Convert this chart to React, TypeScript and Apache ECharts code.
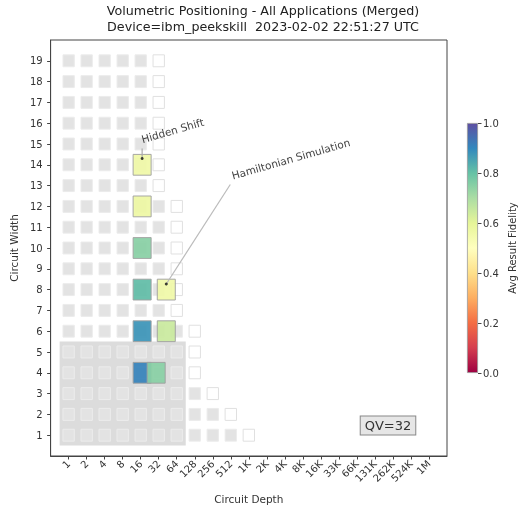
import React, { useEffect, useRef } from "react";
import * as echarts from "echarts";

// ---- data ----
const depthLabels = ["1", "2", "4", "8", "16", "32", "64", "128", "256", "512", "1K", "2K", "4K", "8K", "16K", "33K", "66K", "131K", "262K", "524K", "1M"];
const widthTicks = [1, 2, 3, 4, 5, 6, 7, 8, 9, 10, 11, 12, 13, 14, 15, 16, 17, 18, 19];
// highest filled (gray) depth index for each width 1..19; the next one is the open (white) cell
const grayMaxDepthIdx = [9, 8, 7, 6, 6, 6, 5, 5, 5, 5, 5, 5, 4, 4, 4, 4, 4, 4, 4];

const hsWidths = [4, 6, 8, 10, 12, 14];
const hsDepths = [16.9, 16.9, 16.9, 16.9, 16.9, 16.9];
const hsFidelity = [0.91, 0.88, 0.81, 0.75, 0.57, 0.56];

const hamWidths = [4, 6, 8];
const hamDepths = [29.0, 42.8, 42.8];
const hamFidelity = [0.75, 0.65, 0.56];

const qvValue = 32;
const qvWidth = 5;
const qvMaxDepthIdx = 6;

const annotNames = ["Hidden Shift", "Hamiltonian Simulation"];
const annotDepths = [16.9, 42.8];
const annotWidths = [14.3, 8.27];

const spectral = ["#9e0142", "#d53e4f", "#f46d43", "#fdae61", "#fee08b", "#ffffbf", "#e6f598", "#abdda4", "#66c2a5", "#3288bd", "#5e4fa2"];

const FONT = "DejaVu Sans";

export default function App() {
  const ref = useRef<HTMLDivElement>(null);
  useEffect(() => {
    if (!ref.current) return;
    const chart = echarts.init(ref.current, undefined, { renderer: "svg" });

    const grayData: number[][] = [];
    const whiteData: number[][] = [];
    grayMaxDepthIdx.forEach((m, i) => {
      const w = widthTicks[i];
      for (let d = 0; d <= m; d++) grayData.push([d, w]);
      whiteData.push([m + 1, w]);
    });
    const colored: number[][] = [];
    hsWidths.forEach((w, i) => colored.push([Math.log2(hsDepths[i]), w, hsFidelity[i]]));
    hamWidths.forEach((w, i) => colored.push([Math.log2(hamDepths[i]), w, hamFidelity[i]]));
    const dots = annotDepths.map((d, i) => [Math.log2(d), annotWidths[i]]);

    const tickIdx = depthLabels.map((_, i) => i);

    const squareRender = (fill: string, stroke: string) => (params: any, api: any) => {
      const c = api.coord([api.value(0), api.value(1)]);
      const s = api.size([0.63, 0.575]);
      return {
        type: "rect",
        shape: { x: c[0] - s[0] / 2, y: c[1] - s[1] / 2, width: s[0], height: s[1] },
        style: { fill, stroke, lineWidth: 1 },
      };
    };

    chart.setOption({
      animation: false,
      title: {
        text: "Volumetric Positioning - All Applications (Merged)\nDevice=ibm_peekskill  2023-02-02 22:51:27 UTC",
        left: 263,
        top: 2,
        padding: 0,
        textAlign: "center",
        textStyle: { fontFamily: FONT, fontSize: 12.7, fontWeight: "normal", color: "#222", lineHeight: 16.5 },
      },
      grid: [
        { left: 45, top: 40, width: 402, height: 416, show: true, borderColor: "#444", borderWidth: 1, backgroundColor: "transparent" },
        { left: 467, top: 123, width: 14, height: 250 },
      ],
      xAxis: [
        {
          type: "value", gridIndex: 0, min: -1, max: 21, interval: 1,
          splitLine: { show: false },
          axisLine: { show: true, onZero: false, lineStyle: { color: "#444" } },
          axisTick: { show: true, customValues: tickIdx, length: 3.5, lineStyle: { color: "#444" } },
          axisLabel: {
            customValues: tickIdx, rotate: 45, margin: 6,
            formatter: (v: number) => depthLabels[Math.round(v)] ?? "",
            fontFamily: FONT, fontSize: 10, color: "#333",
          },
          name: "Circuit Depth", nameLocation: "middle", nameGap: 37,
          nameTextStyle: { fontFamily: FONT, fontSize: 10.5, color: "#333" },
        },
        { type: "category", gridIndex: 1, data: [""], show: false },
      ],
      yAxis: [
        {
          type: "value", gridIndex: 0, min: 0, max: 20, interval: 1,
          splitLine: { show: false },
          axisLine: { show: true, onZero: false, lineStyle: { color: "#444" } },
          axisTick: { show: true, customValues: widthTicks, length: 3.5, lineStyle: { color: "#444" } },
          axisLabel: { customValues: widthTicks, margin: 8, fontFamily: FONT, fontSize: 10, color: "#333" },
          name: "Circuit Width", nameLocation: "middle", nameGap: 30, nameRotate: 90,
          nameTextStyle: { fontFamily: FONT, fontSize: 10.5, color: "#333" },
        },
        {
          type: "value", gridIndex: 1, min: 0, max: 1, interval: 0.2, position: "right",
          splitLine: { show: false },
          axisLine: { show: false },
          axisTick: { show: true, length: 3.5, lineStyle: { color: "#444" } },
          axisLabel: { margin: 5, fontFamily: FONT, fontSize: 10, color: "#333", formatter: (v: number) => v.toFixed(1) },
          name: "Avg Result Fidelity", nameLocation: "middle", nameGap: 29, nameRotate: 90,
          nameTextStyle: { fontFamily: FONT, fontSize: 10, color: "#333" },
        },
      ],
      visualMap: {
        type: "continuous", show: false, min: 0, max: 1, dimension: 2, seriesIndex: 3,
        inRange: { color: spectral },
      },
      series: [
        {
          type: "custom", xAxisIndex: 0, yAxisIndex: 0, silent: true,
          data: [[-0.5, 0.5, qvMaxDepthIdx + 0.5, qvWidth + 0.5]],
          encode: { x: [0, 2], y: [1, 3] },
          renderItem: (params: any, api: any) => {
            const a = api.coord([api.value(0), api.value(1)]);
            const b = api.coord([api.value(2), api.value(3)]);
            return {
              type: "rect",
              shape: { x: a[0], y: b[1], width: b[0] - a[0], height: a[1] - b[1] },
              style: { fill: "#dcdcdc" },
            };
          },
        },
        {
          type: "custom", xAxisIndex: 0, yAxisIndex: 0, silent: true,
          data: grayData, encode: { x: 0, y: 1 },
          renderItem: squareRender("#e3e3e3", "#ececec"),
        },
        {
          type: "custom", xAxisIndex: 0, yAxisIndex: 0, silent: true,
          data: whiteData, encode: { x: 0, y: 1 },
          renderItem: squareRender("#ffffff", "#e0e0e0"),
        },
        {
          type: "custom", xAxisIndex: 0, yAxisIndex: 0, silent: true,
          data: colored, encode: { x: 0, y: 1 },
          renderItem: (params: any, api: any) => {
            const c = api.coord([api.value(0), api.value(1)]);
            const s = api.size([1, 1]);
            return {
              type: "rect",
              shape: { x: c[0] - s[0] / 2, y: c[1] - s[1] / 2, width: s[0], height: s[1] },
              style: { fill: api.visual("color"), stroke: "#a0a0a0", lineWidth: 1, opacity: 0.93 },
            };
          },
        },
        {
          type: "scatter", xAxisIndex: 0, yAxisIndex: 0, silent: true,
          data: dots, symbol: "circle", symbolSize: 3,
          itemStyle: { color: "#111" }, z: 5,
        },
        {
          type: "bar", xAxisIndex: 1, yAxisIndex: 1, silent: true,
          data: [1], barWidth: "100%",
          itemStyle: {
            color: new echarts.graphic.LinearGradient(0, 1, 0, 0, spectral.map((c, i) => ({ offset: i / (spectral.length - 1), color: c }))),
            borderColor: "#999", borderWidth: 0.8,
          },
        },
      ],
    });

    // annotations placed relative to their target dots
    const p0 = chart.convertToPixel({ gridIndex: 0 }, dots[0]) as number[];
    const p1 = chart.convertToPixel({ gridIndex: 0 }, dots[1]) as number[];
    const rot = (16 * Math.PI) / 180;
    const txtStyle = (text: string) => ({
      text, fill: "#444", fontFamily: FONT, fontSize: 10.5,
      align: "left", verticalAlign: "bottom", textAlign: "left", textVerticalAlign: "bottom",
    });
    chart.setOption({
      graphic: [
        { type: "line", shape: { x1: p0[0], y1: p0[1] - 10, x2: p0[0], y2: p0[1] }, style: { stroke: "#aaa", lineWidth: 1.2 }, z: 4 },
        { type: "line", shape: { x1: p1[0] + 64, y1: p1[1] - 99.5, x2: p1[0], y2: p1[1] }, style: { stroke: "#bbb", lineWidth: 1.2 }, z: 4 },
        { type: "text", x: p0[0] + 1, y: p0[1] - 14, rotation: rot, style: txtStyle(annotNames[0]), z: 6 },
        { type: "text", x: p1[0] + 67, y: p1[1] - 103, rotation: rot, style: txtStyle(annotNames[1]), z: 6 },
        {
          type: "text", x: 388, y: 425.5, z: 6,
          style: {
            text: "QV=" + qvValue, fill: "#333", fontFamily: FONT, fontSize: 13,
            align: "center", verticalAlign: "middle", textAlign: "center", textVerticalAlign: "middle",
            backgroundColor: "#e6e6e6", borderColor: "#888", borderWidth: 1, padding: [3, 4, 2, 4],
          },
        },
      ],
    });

    return () => chart.dispose();
  }, []);
  return <div ref={ref} style={{ position: "fixed", left: 0, top: 0, width: 518, height: 513 }} />;
}
